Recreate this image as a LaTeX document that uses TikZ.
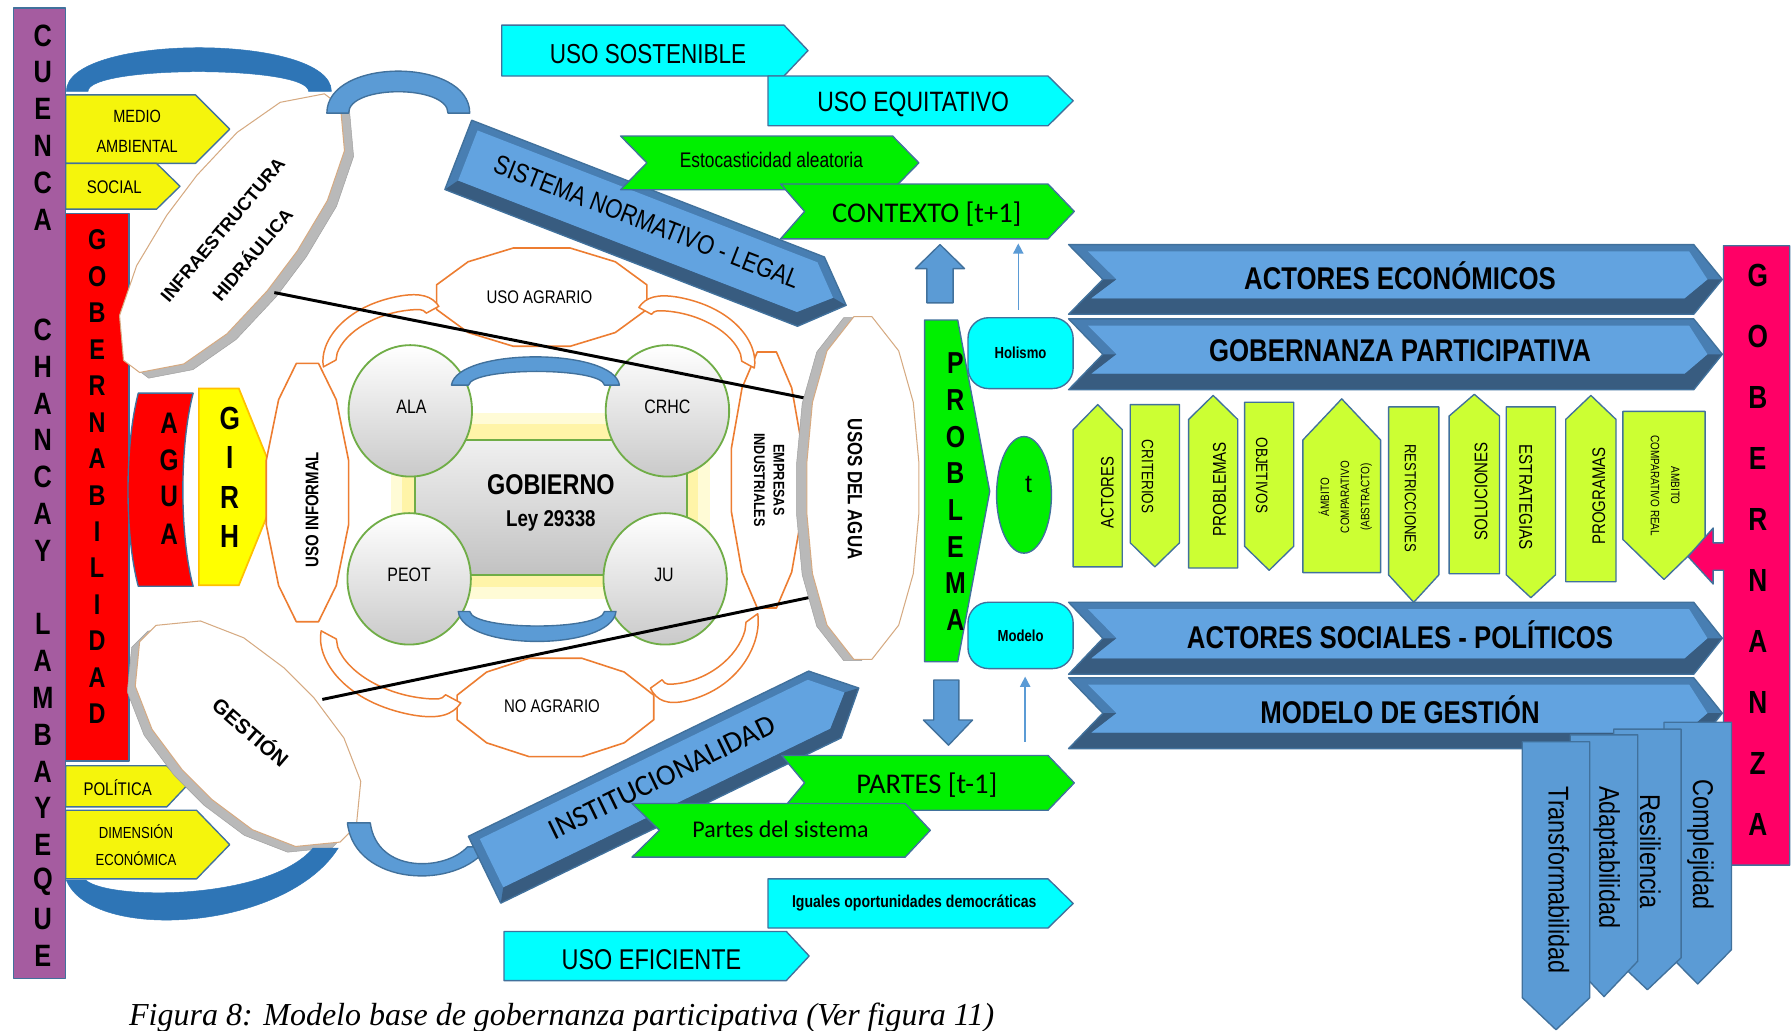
\documentclass[tikz,border=0pt]{standalone}
\usepackage{fontspec}
\setmainfont{Liberation Sans}
\newfontfamily\nar[FakeStretch=0.82]{Liberation Sans}
\newfontfamily\calib{Carlito}
\newfontfamily\capfont{Liberation Serif}
\usetikzlibrary{arrows.meta}

\newcommand\fsz[1]{\fontsize{#1}{#1}\selectfont}

\definecolor{lila}{RGB}{165,92,160}
\definecolor{rojo}{RGB}{255,0,0}
\definecolor{amar}{RGB}{245,245,12}
\definecolor{amarG}{RGB}{255,255,0}
\definecolor{oro}{RGB}{255,192,0}
\definecolor{cian}{RGB}{0,255,255}
\definecolor{verde}{RGB}{0,240,0}
\definecolor{lima}{RGB}{204,255,51}
\definecolor{magen}{RGB}{255,0,102}
\definecolor{azul}{RGB}{91,155,213}
\definecolor{azulo}{RGB}{46,117,182}
\definecolor{azulcara}{RGB}{98,163,224}
\definecolor{azulmed}{RGB}{72,126,178}
\definecolor{azulsomb}{RGB}{56,92,128}
\definecolor{borde}{RGB}{65,113,156}
\definecolor{naranja}{RGB}{237,125,49}
\definecolor{verdeb}{RGB}{112,173,71}
\definecolor{canto}{RGB}{214,170,130}
\definecolor{glowA}{RGB}{255,251,214}
\definecolor{glowB}{RGB}{255,244,168}

% elongated bevelled lens, half length #1, half width #2
\newcommand\lenspath[2]{(#1,{-0.16*#2}) -- (#1,{0.16*#2}) -- ({0.8*#1},{0.64*#2}) -- ({0.5*#1},{0.9*#2}) -- ({0.15*#1},#2) -- ({-0.15*#1},#2) -- ({-0.5*#1},{0.9*#2}) -- ({-0.8*#1},{0.64*#2}) -- ({-#1},{0.16*#2}) -- ({-#1},{-0.16*#2}) -- ({-0.8*#1},{-0.64*#2}) -- ({-0.5*#1},{-0.9*#2}) -- ({-0.15*#1},{-#2}) -- ({0.15*#1},{-#2}) -- ({0.5*#1},{-0.9*#2}) -- ({0.8*#1},{-0.64*#2}) -- cycle}
% twelve-sided ring, half width #1, half height #2
\newcommand\octpath[2]{({0.27*#1},{-#2}) -- ({0.7*#1},{-0.72*#2}) -- (#1,{-0.25*#2}) -- (#1,{0.25*#2}) -- ({0.7*#1},{0.72*#2}) -- ({0.27*#1},#2) -- ({-0.27*#1},#2) -- ({-0.7*#1},{0.72*#2}) -- ({-#1},{0.25*#2}) -- ({-#1},{-0.25*#2}) -- ({-0.7*#1},{-0.72*#2}) -- ({-0.27*#1},{-#2}) -- cycle}
% curved arrow band, tail at (283,321), head at (383,268)
\newcommand\bandpath{(283,321) .. controls (279,300) and (300,268) .. (350,259) .. controls (368,256) and (378,259) .. (384,268) -- (373,274) .. controls (370,270) and (366,271) .. (362,271) .. controls (330,273) and (302,290) .. (295,309) -- (294,315) -- cycle}

\tikzset{
  bd/.style={draw=borde, line width=1.2pt, line join=round},
  lbl/.style={inner sep=0pt, outer sep=0pt},
  ring/.style={draw=naranja, line width=1.4pt, fill=white, line join=round},
  band/.style={draw=naranja, line width=1.3pt, fill=white, line join=round},
  circ/.style={draw=verdeb, line width=1.6pt, top color=white, bottom color=gray!42},
  blk/.style={draw=black, line width=2.6pt},
  thinarr/.style={draw=azul, line width=1.3pt, -{Triangle[length=9pt,width=9pt]}},
}

% lens with grey rim: cx cy angle L W rim-dx rim-dy
\newcommand\lens[7]{%
  \begin{scope}[shift={({#1+(#6)},{#2+(#7)})}, rotate=#3]
    \filldraw[draw=gray!75, fill=gray!55] \lenspath{#4}{#5};
  \end{scope}
  \begin{scope}[shift={(#1,#2)}, rotate=#3]
    \filldraw[draw=canto, line width=0.9pt, fill=white] \lenspath{#4}{#5};
  \end{scope}}

% bevelled block arrow: tail-x tail-y angle name font text
\newcommand\blockarrow[6]{%
  \begin{scope}[shift={(#1,#2)}, rotate=#3]
    \fill[azulmed] (0,-32.5) -- (331,-32.5) -- (364,0) -- (331,32.5) -- (0,32.5) -- cycle;
    \fill[azulsomb] (0,32.5) -- (331,32.5) -- (364,0) -- (351,-2) -- (326,21) -- (8,21) -- cycle;
    \fill[azulcara] (8,-26) -- (327,-26) -- (351,-2) -- (326,21) -- (8,21) -- cycle;
    \draw[bd] (0,-32.5) -- (331,-32.5) -- (364,0) -- (331,32.5) -- (0,32.5) -- cycle;
    \node[lbl, rotate=#3, font=#5] (#4) at (175,-5) {#6};
  \end{scope}}

% wide bevelled chevron on the right: ytop ybottom name text
\newcommand\bigchev[4]{%
  \pgfmathsetmacro\ymid{(#1+#2)/2}
  \fill[azulmed] (935,#1) -- (1482,#1) -- (1507,\ymid) -- (1482,#2) -- (935,#2) -- (965,\ymid) -- cycle;
  \fill[azulsomb] (965,\ymid) -- (935,#2) -- (1482,#2) -- (1507,\ymid) -- (1494,\ymid) -- (1474,#2-14) -- (955,#2-14) -- (977,\ymid) -- cycle;
  \fill[azulcara] (952,#1+6) -- (1478,#1+6) -- (1494,\ymid) -- (1474,#2-14) -- (955,#2-14) -- (977,\ymid) -- cycle;
  \draw[bd] (935,#1) -- (1482,#1) -- (1507,\ymid) -- (1482,#2) -- (935,#2) -- (965,\ymid) -- cycle;
  \node[lbl, font=\nar\bfseries\fsz{27.5}] (#3) at (1225,\ymid-3) {#4};}

% pentagon tags
\newcommand\tagR[6]{\filldraw[bd, fill=#6] (#1,#2) -- (#4,#2) -- (#5,{(#2+#3)/2}) -- (#4,#3) -- (#1,#3) -- cycle;}
\newcommand\chevR[7]{\filldraw[bd, fill=#7] (#1,#3) -- (#5,#3) -- (#6,{(#3+#4)/2}) -- (#5,#4) -- (#1,#4) -- (#2,{(#3+#4)/2}) -- cycle;}
\newcommand\penUp[6]{\filldraw[bd, fill=#6] (#1,#5) -- (#1,#4) -- ({(#1+#2)/2},#3) -- (#2,#4) -- (#2,#5) -- cycle;}
\newcommand\penDn[6]{\filldraw[bd, fill=#6] (#1,#3) -- (#2,#3) -- (#2,#4) -- ({(#1+#2)/2},#5) -- (#1,#4) -- cycle;}

\begin{document}
\begin{tikzpicture}[x=1pt, y=-1pt]
\useasboundingbox (0,0) rectangle (1568,902);
\clip (0,0) rectangle (1568,902);
\fill[white] (0,0) rectangle (1568,902);

% ---------------- basin column ----------------
\filldraw[bd, fill=lila] (12,7) rectangle (57.5,856);
\foreach \ch/\k in {C/0,U/1,E/2,N/3,C/4,A/5,C/8,H/9,A/10,N/11,C/12,A/13,Y/14,L/16,A/17,M/18,B/19,A/20,Y/21,E/22,Q/23,U/24,E/25}
  \node[lbl, font=\nar\bfseries\fsz{27}] (cuenca\k) at (37.5,{31+32.2*\k}) {\ch};

% ---------------- governability column ----------------
\filldraw[bd, fill=rojo] (57.5,187) rectangle (113,666);
\foreach \ch [count=\k from 0] in {G,O,B,E,R,N,A,B,I,L,I,D,A,D}
  \node[lbl, font=\nar\bfseries\fsz{25}] (gobern\k) at (85,{210+31.9*\k}) {\ch};

% dimension tags
\tagR{57.5}{83}{143}{171}{201}{amar}
\tagR{57.5}{143}{183}{137}{157.5}{amar}
\tagR{57.5}{670}{706}{146}{163}{amar}
\tagR{57.5}{709}{769}{172}{201}{amar}
\node[lbl, font=\nar\fsz{15.5}] (medio) at (120,102) {MEDIO};
\node[lbl, font=\nar\fsz{15.5}] (ambiental) at (120,128) {AMBIENTAL};
\node[lbl, font=\nar\fsz{16}] (social) at (100,164) {SOCIAL};
\node[lbl, font=\nar\fsz{16}] (politica) at (103,689) {POLÍTICA};
\node[lbl, font=\nar\fsz{14}] (dimension) at (119,728) {DIMENSIÓN};
\node[lbl, font=\nar\fsz{14}] (economica) at (119,751) {ECONÓMICA};

% ---------------- infrastructure and management lenses ----------------
\lens{203}{204}{53}{146}{55}{8}{5}
\node[lbl, rotate=50, font=\bfseries\fsz{16}] (infra) at (195,201) {INFRAESTRUCTURA};
\node[lbl, rotate=50, font=\bfseries\fsz{16}] (hidra) at (220,222) {HIDRÁULICA};
\lens{217}{642}{-45}{124}{63}{-7}{5}
\node[lbl, rotate=-41, font=\bfseries\fsz{18}] (gestion) at (220,640) {GESTIÓN};

% linking arcs
\filldraw[draw=azulo, fill=azulo] (58,80) .. controls (58,29) and (290,29) .. (290,80) -- (270,80) .. controls (270,57) and (77,57) .. (77,80) -- cycle;
\filldraw[bd, fill=azul] (286,99) .. controls (286,50) and (411,50) .. (411,99) -- (392,99) .. controls (392,74) and (305,74) .. (305,99) -- cycle;
\filldraw[draw=azulo, fill=azulo] (58,770) .. controls (80,825) and (250,815) .. (296,742) -- (274,742) .. controls (235,788) and (95,788) .. (75,770) -- cycle;
\filldraw[bd, fill=azul] (304,720) .. controls (310,775) and (400,780) .. (427,741) -- (409,741) .. controls (390,762) and (330,765) .. (324,720) -- cycle;

% water and IWRM
\filldraw[bd, fill=rojo] (121,344) -- (169,344) .. controls (157,390) and (157,468) .. (169,513) -- (121,513) .. controls (109,468) and (109,390) .. (121,344) -- cycle;
\foreach \ch [count=\k from 0] in {A,G,U,A}
  \node[lbl, font=\nar\bfseries\fsz{26}] (agua\k) at (148,{370+32.4*\k}) {\ch};
\filldraw[draw=oro, line width=1.5pt, fill=amarG] (174,340) -- (209,340) -- (244,426) -- (209,512) -- (174,512) -- cycle;
\foreach \ch/\yy in {G/366,I/400,R/435,H/469}
  \node[lbl, font=\nar\bfseries\fsz{28}] (girh\ch) at (201,\yy) {\ch};

% ---------------- water uses ring ----------------
\begin{scope}[shift={(474,260)}] \filldraw[ring] \octpath{92}{43}; \end{scope}
\begin{scope}[shift={(486,619)}] \filldraw[ring] \octpath{86}{43}; \end{scope}
\begin{scope}[shift={(269,431)}] \filldraw[ring] \octpath{36}{113}; \end{scope}
\begin{scope}[shift={(671,420)}] \filldraw[ring] \octpath{31}{112}; \end{scope}
\filldraw[band] \bandpath;
\begin{scope}[shift={(660,322)}, xscale=-1, shift={(-283,-321)}] \filldraw[band] \bandpath; \end{scope}
\begin{scope}[shift={(663,537)}, xscale=-0.93, yscale=-1.23, shift={(-283,-321)}] \filldraw[band] \bandpath; \end{scope}
\begin{scope}[shift={(281,552)}, xscale=1.21, yscale=-1.19, shift={(-283,-321)}] \filldraw[band] \bandpath; \end{scope}
\node[lbl, font=\nar\fsz{16}] (agrario) at (472,260) {USO AGRARIO};
\node[lbl, font=\nar\fsz{16}] (noagrario) at (483,618) {NO AGRARIO};
\node[lbl, rotate=90, font=\nar\bfseries\fsz{16}] (informal) at (273,446) {USO INFORMAL};
\node[lbl, rotate=-90, align=center, font={\nar\bfseries\fontsize{13.5}{17}\selectfont}] (empresas) at (673,420) {EMPRESAS\\INDUSTRIALES};

% ---------------- government core ----------------
\fill[glowA] (342,361) rectangle (621,524);
\fill[glowB] (352,371) rectangle (611,514);
\path[draw=verdeb, line width=1.6pt, top color=gray!12, bottom color=gray!48] (363,385) rectangle (601,503);
\path[circ] (359,359.5) ellipse [x radius=54, y radius=57.5];
\path[circ] (584,359.5) ellipse [x radius=54, y radius=57.5];
\path[circ] (358,506.5) ellipse [x radius=54, y radius=57.5];
\path[circ] (582,506.5) ellipse [x radius=54, y radius=57.5];
\filldraw[bd, fill=azul] (395,337) .. controls (400,304) and (537,304) .. (542,337) -- (529,337) .. controls (526,321) and (413,321) .. (410,337) -- cycle;
\filldraw[bd, fill=azul] (401,535) .. controls (405,570) and (535,570) .. (539,535) -- (529,535) .. controls (526,552) and (414,552) .. (411,535) -- cycle;
\node[lbl, font=\nar\fsz{17}] (ala) at (360,356) {ALA};
\node[lbl, font=\nar\fsz{17}] (crhc) at (584,356) {CRHC};
\node[lbl, font=\nar\fsz{17}] (peot) at (358,503) {PEOT};
\node[lbl, font=\nar\fsz{17}] (ju) at (581,503) {JU};
\node[lbl, font=\nar\bfseries\fsz{25}] (gobierno) at (482,424) {GOBIERNO};
\node[lbl, font=\nar\bfseries\fsz{20}] (ley) at (482,456) {Ley 29338};

% tie lines
\coordinate (ln1a) at (240,256); \coordinate (ln1b) at (708,349);
\coordinate (ln2a) at (282,612); \coordinate (ln2b) at (712,522);
\draw[blk] (ln1a) -- (ln1b);
\draw[blk] (ln2a) -- (ln2b);

% water uses lens
\lens{755}{427}{90}{150}{49}{-9}{1}
\node[lbl, rotate=-90, font=\nar\bfseries\fsz{18}] (usos) at (748,428) {USOS DEL AGUA};

% ---------------- normative and institutional arrows ----------------
\blockarrow{401}{135.5}{-21.2}{sistema}{\nar\fsz{23.5}}{SISTEMA NORMATIVO - LEGAL}
\blockarrow{424}{761}{25.9}{instit}{\calib\fsz{26}}{INSTITUCIONALIDAD}

% ---------------- context tags ----------------
\tagR{439}{22}{66.5}{686}{707}{cian}
\tagR{672}{66.5}{110}{917}{939}{cian}
\chevR{543}{566}{119}{166}{781}{804}{verde}
\chevR{683}{704}{161}{209}{917}{940}{verde}
\node[lbl, font=\nar\fsz{24}] (sostenible) at (567,47) {USO SOSTENIBLE};
\node[lbl, font=\nar\fsz{24.5}] (equitativo) at (799,91) {USO EQUITATIVO};
\node[lbl, font=\nar\fsz{18.5}] (estoc) at (675,140) {Estocasticidad aleatoria};
\node[lbl, font=\calib\fsz{25}] (contexto) at (811,187) {CONTEXTO [t+1]};

\chevR{684}{704}{661}{709}{917}{940}{verde}
\chevR{553}{577}{703}{750}{792}{814}{verde}
\tagR{672}{769}{812}{917}{939}{cian}
\tagR{441}{815}{858}{688}{708}{cian}
\node[lbl, font=\calib\fsz{25}] (partes) at (811,687) {PARTES [t-1]};
\node[lbl, font=\calib\fsz{21}] (partsis) at (683,726) {Partes del sistema};
\node[lbl, font=\nar\bfseries\fsz{15}] (iguales) at (800,790) {Iguales oportunidades democráticas};
\node[lbl, font=\nar\fsz{25}] (eficiente) at (570,840) {USO EFICIENTE};

% ---------------- problem ----------------
\filldraw[bd, fill=verde] (809,280) -- (838,280) -- (866,430) -- (838,579) -- (809,579) -- cycle;
\foreach \ch [count=\k from 0] in {P,R,O,B,L,E,M,A}
  \node[lbl, font=\nar\bfseries\fsz{26.5}] (prob\k) at (836,{318+32.1*\k}) {\ch};
\node[bd, fill=cian, rounded corners=18pt, minimum width=92pt, minimum height=62pt, inner sep=0pt, font=\nar\bfseries\fsz{14}] (holismo) at (893,309) {Holismo};
\node[bd, fill=cian, rounded corners=18pt, minimum width=92pt, minimum height=58pt, inner sep=0pt, font=\nar\bfseries\fsz{14}] (modelo) at (893,556) {Modelo};
\filldraw[bd, fill=verde] (896,433) ellipse [x radius=24, y radius=51];
\node[lbl, font=\fsz{22}] (tt) at (900,424) {t};
\filldraw[bd, fill=azul] (811,265) -- (811,235) -- (801,235) -- (822.5,214) -- (844,235) -- (834,235) -- (834,265) -- cycle;
\filldraw[bd, fill=azul] (817,595) -- (839,595) -- (839,630) -- (851,630) -- (830,652) -- (808,630) -- (817,630) -- cycle;
\coordinate (upA) at (891,271); \coordinate (upB) at (891,213);
\coordinate (upC) at (897,649); \coordinate (upD) at (897,592);
\draw[thinarr] (upA) -- (upB);
\draw[thinarr] (upC) -- (upD);

% ---------------- participatory governance ----------------
\bigchev{214}{275}{actecon}{ACTORES ECONÓMICOS}
\bigchev{279}{341}{gobpart}{GOBERNANZA PARTICIPATIVA}
\bigchev{527}{590}{actsoc}{ACTORES SOCIALES - POLÍTICOS}
\bigchev{593}{655}{modgest}{MODELO DE GESTIÓN}

\penUp{939}{982}{354}{376}{496}{lima}
\penDn{989}{1032}{354}{475}{496}{lima}
\penUp{1040}{1083}{346}{367}{497}{lima}
\penDn{1089}{1132}{352}{478}{499}{lima}
\penUp{1140}{1208}{349}{385}{501}{lima}
\penDn{1215}{1259}{356}{503}{527}{lima}
\penUp{1268}{1312}{345}{364}{502}{lima}
\penDn{1318}{1361}{356}{503}{523}{lima}
\penUp{1370}{1414}{346}{367}{509}{lima}
\penDn{1420}{1492}{360}{472}{507}{lima}
\node[lbl, rotate=90, font=\nar\fsz{15.8}] (pactores) at (969,431) {ACTORES};
\node[lbl, rotate=-90, font=\nar\fsz{14.4}] (pcriterios) at (1004,417) {CRITERIOS};
\node[lbl, rotate=90, font=\nar\fsz{16.2}] (pproblemas) at (1067,428) {PROBLEMAS};
\node[lbl, rotate=-90, font=\nar\fsz{14.4}] (pobjetivos) at (1104,416) {OBJETIVOS};
\node[lbl, rotate=90, align=center, font={\nar\fontsize{10.6}{17.6}\selectfont}] (pabstracto) at (1177,435) {ÁMBITO\\COMPARATIVO\\(ABSTRACTO)};
\node[lbl, rotate=-90, font=\nar\fsz{14}] (prestric) at (1234,436) {RESTRICCIONES};
\node[lbl, rotate=90, font=\nar\fsz{16}] (psoluc) at (1296,430) {SOLUCIONES};
\node[lbl, rotate=-90, font=\nar\fsz{16.2}] (pestrat) at (1335,435) {ESTRATEGIAS};
\node[lbl, rotate=90, font=\nar\fsz{16}] (pprogr) at (1399,434) {PROGRAMAS};
\node[lbl, rotate=-90, align=center, font={\nar\fontsize{10.6}{17.6}\selectfont}] (preal) at (1457,425) {AMBITO\\COMPARATIVO REAL};

% governance column with pointer
\filldraw[bd, fill=magen] (1508,215) -- (1566,215) -- (1566,757) -- (1508,757) -- (1508,499) -- (1499,499) -- (1499,511) -- (1477,487) -- (1499,462) -- (1499,475) -- (1508,475) -- cycle;
\foreach \ch [count=\k from 0] in {G,O,B,E,R,N,A,N,Z,A}
  \node[lbl, font=\nar\bfseries\fsz{28}] (gobz\k) at (1538,{241+53.4*\k}) {\ch};

% system properties
\penDn{1456}{1515}{632}{831}{861}{azul}
\node[lbl, rotate=-90, font=\nar\fsz{25}] (complej) at (1488,739) {Complejidad};
\penDn{1412}{1471}{638}{838}{866}{azul}
\node[lbl, rotate=-90, font=\nar\fsz{25}] (resil) at (1444,745) {Resiliencia};
\penDn{1374}{1433}{643}{841}{872}{azul}
\node[lbl, rotate=-90, font=\nar\fsz{25}] (adapt) at (1406,750) {Adaptabilidad};
\penDn{1332}{1391}{649}{873}{901}{azul}
\node[lbl, rotate=-90, font=\nar\fsz{25}] (transf) at (1364,770) {Transformabilidad};

% caption
\node[lbl, anchor=base west, font=\capfont\itshape\fsz{28}] (caption) at (113,897) {Figura 8: Modelo base de gobernanza participativa (Ver figura 11)};
\end{tikzpicture}
\end{document}
